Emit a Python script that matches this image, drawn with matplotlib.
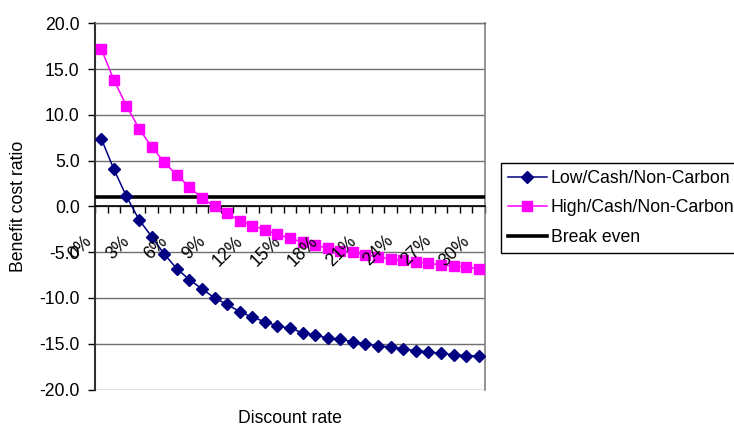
import matplotlib
matplotlib.use("Agg")
import matplotlib.pyplot as plt
from matplotlib.transforms import ScaledTranslation

plt.rcParams['font.family'] = ['Liberation Sans', 'DejaVu Sans']

# Discount rate categories 0% .. 30%
rates = [f"{r}%" for r in range(0, 31)]

low_cash = [7.4, 4.05, 1.1, -1.45, -3.3, -5.2, -6.8, -8.0, -9.0, -10.0,
            -10.7, -11.5, -12.1, -12.6, -13.05, -13.3, -13.8, -14.05, -14.4, -14.5,
            -14.8, -15.0, -15.25, -15.35, -15.6, -15.75, -15.9, -16.05, -16.2, -16.3,
            -16.35]
high_cash = [17.2, 13.8, 11.0, 8.5, 6.5, 4.85, 3.4, 2.15, 0.9, 0.0,
             -0.75, -1.55, -2.1, -2.55, -3.05, -3.5, -3.9, -4.25, -4.55, -4.85,
             -5.0, -5.3, -5.5, -5.75, -5.9, -6.05, -6.2, -6.4, -6.5, -6.65,
             -6.8]
break_even = 1.0

label_every = 3
yticks = [-20, -15, -10, -5, 0, 5, 10, 15, 20]
fs = 12.7

fig = plt.figure(figsize=(7.34, 4.28), dpi=100)
ax = fig.add_axes([95 / 734, 1 - 389.5 / 428, 390 / 734, 366.2 / 428])

x = list(range(len(rates)))
ax.plot(x, low_cash, color='#000080', marker='D', markersize=6, lw=1.1,
        label='Low/Cash/Non-Carbon', zorder=4)
ax.plot(x, high_cash, color='#FF00FF', marker='s', markersize=6.5, lw=1.1,
        label='High/Cash/Non-Carbon', zorder=4)
ax.axhline(break_even, color='black', lw=2.6, label='Break even', zorder=3)

ax.set_xlim(-0.5, len(rates) - 0.5)
ax.set_ylim(-20, 20)
ax.set_yticks(yticks)
ax.set_yticklabels([f"{v:.1f}" for v in yticks], fontsize=fs)
ax.yaxis.grid(True, color='#707070', lw=1.0)
ax.set_axisbelow(True)

# category axis crossing at zero
ax.spines['bottom'].set_position(('data', 0))
ax.spines['bottom'].set_linewidth(1.2)
ax.spines['left'].set_linewidth(1.5)
ax.spines['left'].set_color('#303030')
ax.spines['top'].set_color('#707070')
ax.spines['top'].set_linewidth(1.0)
ax.spines['right'].set_color('#808080')
ax.spines['right'].set_linewidth(1.2)

ax.set_xticks([i + 0.5 for i in range(-1, len(rates))], minor=True)
ax.set_xticks([])
ax.tick_params(axis='x', which='minor', direction='out', length=5, width=1)
ax.tick_params(axis='y', which='major', direction='out', length=5, width=1, pad=6)

offset = ScaledTranslation(-6 / 100, -26 / 100, fig.dpi_scale_trans)
for i in range(0, len(rates), label_every):
    ax.text(i, 0, rates[i], rotation=45, ha='right', va='top', fontsize=fs,
            transform=ax.transData + offset, zorder=5)

ax.set_ylabel('Benefit cost ratio', fontsize=fs)
ax.yaxis.set_label_coords(-0.175, 0.5)
ax.set_xlabel('Discount rate', fontsize=fs)
ax.xaxis.set_label_coords(0.5, -0.055)

leg = fig.legend(loc='upper left', bbox_to_anchor=(500.7 / 734, 1 - 162.7 / 428),
                 borderaxespad=0, fancybox=False, edgecolor='black', framealpha=1,
                 fontsize=fs, handlelength=2.2, handletextpad=0.25, labelspacing=0.72)
leg.get_frame().set_linewidth(1.0)

fig.savefig('out.png', dpi=100)
